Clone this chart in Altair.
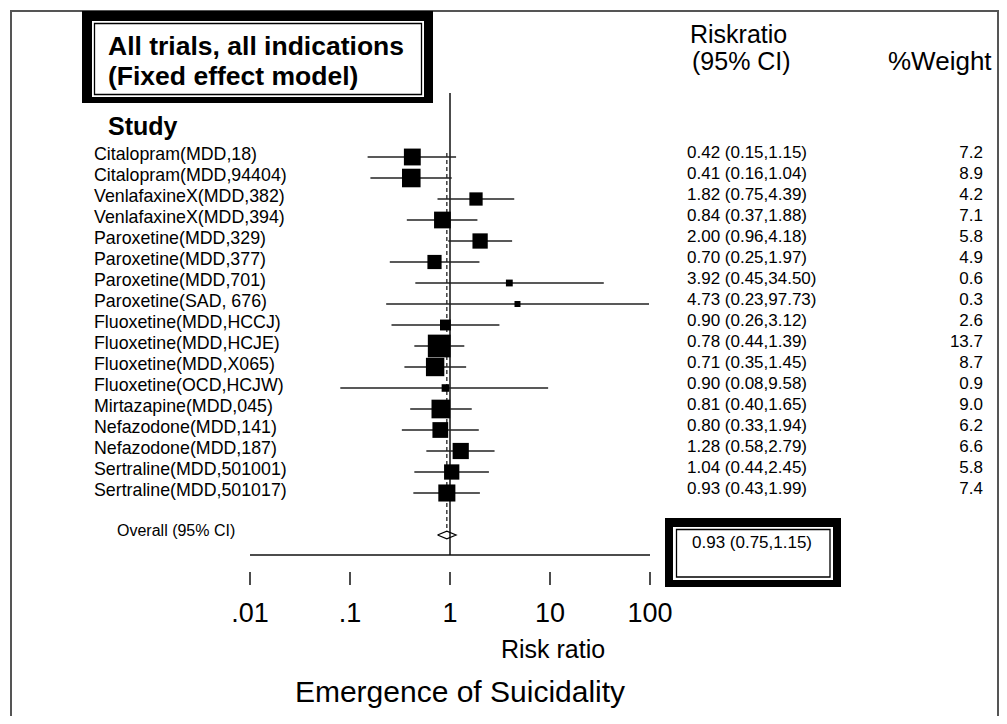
import altair as alt
import pandas as pd

# ---------------- data ----------------
studies = [
    "Citalopram(MDD,18)", "Citalopram(MDD,94404)", "VenlafaxineX(MDD,382)",
    "VenlafaxineX(MDD,394)", "Paroxetine(MDD,329)", "Paroxetine(MDD,377)",
    "Paroxetine(MDD,701)", "Paroxetine(SAD, 676)", "Fluoxetine(MDD,HCCJ)",
    "Fluoxetine(MDD,HCJE)", "Fluoxetine(MDD,X065)", "Fluoxetine(OCD,HCJW)",
    "Mirtazapine(MDD,045)", "Nefazodone(MDD,141)", "Nefazodone(MDD,187)",
    "Sertraline(MDD,501001)", "Sertraline(MDD,501017)",
]
rr = [0.42, 0.41, 1.82, 0.84, 2.00, 0.70, 3.92, 4.73, 0.90, 0.78, 0.71, 0.90,
      0.81, 0.80, 1.28, 1.04, 0.93]
ci_low = [0.15, 0.16, 0.75, 0.37, 0.96, 0.25, 0.45, 0.23, 0.26, 0.44, 0.35, 0.08,
          0.40, 0.33, 0.58, 0.44, 0.43]
ci_high = [1.15, 1.04, 4.39, 1.88, 4.18, 1.97, 34.50, 97.73, 3.12, 1.39, 1.45, 9.58,
           1.65, 1.94, 2.79, 2.45, 1.99]
weights = [7.2, 8.9, 4.2, 7.1, 5.8, 4.9, 0.6, 0.3, 2.6, 13.7, 8.7, 0.9,
           9.0, 6.2, 6.6, 5.8, 7.4]
overall_rr = 0.93
overall_lo = 0.75
overall_hi = 1.15
overall_row = 18
tick_values = [0.01, 0.1, 1, 10, 100]
tick_labels = [".01", ".1", "1", "10", "100"]

FONT = "Liberation Sans"

df = pd.DataFrame({
    "study": studies, "rr": rr, "lo": ci_low, "hi": ci_high, "w": weights,
    "row": list(range(len(studies))),
})
df["ci_text"] = [f"{a:.2f} ({b:.2f},{c:.2f})" for a, b, c in zip(rr, ci_low, ci_high)]
df["w_text"] = [f"{w:.1f}" for w in weights]

ticks = pd.DataFrame({"v": tick_values, "lab": tick_labels})
axis_line = pd.DataFrame({"a": [tick_values[0]], "b": [tick_values[-1]]})
ref_df = pd.DataFrame({"v": [1.0]})
ov_df = pd.DataFrame({"v": [overall_rr]})
dh = 0.18
diamond = pd.DataFrame({
    "x": [overall_lo, overall_rr, overall_hi, overall_rr, overall_lo],
    "row": [overall_row, overall_row - dh, overall_row, overall_row + dh, overall_row],
    "o": [0, 1, 2, 3, 4],
})
one = pd.DataFrame({"k": [0]})

xs = alt.Scale(type="log", domain=[0.01, 100], range=[242, 642], nice=False)
ys = alt.Scale(domain=[0, 16], range=[149, 485], nice=False, zero=False)


def X(f):
    return alt.X(f, type="quantitative", scale=xs, axis=None)


def Y(f):
    return alt.Y(f, type="quantitative", scale=ys, axis=None)


def label(text, x, y, size, bold=False, align="left"):
    return alt.Chart(one).mark_text(
        text=text, align=align, baseline="alphabetic", fontSize=size, font=FONT,
        fontWeight="bold" if bold else "normal", color="black",
    ).encode(x=alt.value(x), y=alt.value(y))


def box(x1, y1, x2, y2, fill=None, stroke=None, sw=1):
    kw = {}
    if fill is not None:
        kw["fill"] = fill
        kw["fillOpacity"] = 1
    else:
        kw["fillOpacity"] = 0
    if stroke is not None:
        kw["stroke"] = stroke
        kw["strokeWidth"] = sw
    return alt.Chart(one).mark_rect(**kw).encode(
        x=alt.value(x1), x2=alt.value(x2), y=alt.value(y1), y2=alt.value(y2))


layers = []
# outer frame
layers.append(box(3, 3, 990, 730, stroke="#555555", sw=2))
# title box
layers.append(box(74, 3, 425, 95, fill="black"))
layers.append(box(84, 13, 416, 89, fill="white"))
layers.append(box(86.5, 15.5, 413.5, 86.5, fill="white", stroke="black", sw=1.3))
layers.append(label("All trials, all indications", 100, 47, 26.5, bold=True))
layers.append(label("(Fixed effect model)", 100, 77, 26.5, bold=True))
layers.append(label("Study", 100, 127, 25, bold=True))
# column headers
layers.append(label("Riskratio", 682, 35, 25))
layers.append(label("(95% CI)", 684, 62, 25))
layers.append(label("%Weight", 880, 62, 26))

# reference line at 1
layers.append(alt.Chart(ref_df).mark_rule(color="#111111", strokeWidth=1.5).encode(
    x=X("v"), y=alt.value(85), y2=alt.value(547)))
# overall dashed line
layers.append(alt.Chart(ov_df).mark_rule(color="#111111", strokeWidth=1.2, strokeDash=[4, 3]).encode(
    x=X("v"), y=alt.value(145), y2=alt.value(522)))
# CI lines
layers.append(alt.Chart(df).mark_rule(color="#222222", strokeWidth=1.4).encode(
    x=X("lo"), x2="hi", y=Y("row")))
# squares
layers.append(alt.Chart(df).mark_point(shape="square", filled=True, opacity=1, color="black").encode(
    x=X("rr"), y=Y("row"),
    size=alt.Size("w:Q", scale=alt.Scale(domain=[0, 13.7], range=[25, 518], zero=False), legend=None)))
# diamond
layers.append(alt.Chart(diamond).mark_line(color="black", strokeWidth=1.2).encode(
    x=X("x"), y=Y("row"), order="o:Q"))
# study labels
layers.append(alt.Chart(df).mark_text(align="left", baseline="alphabetic", fontSize=17.8, font=FONT,
                                      color="black", dy=3).encode(
    x=alt.value(86), y=Y("row"), text="study:N"))
# CI text
layers.append(alt.Chart(df).mark_text(align="left", baseline="alphabetic", fontSize=17, font=FONT,
                                      color="black", dy=1).encode(
    x=alt.value(679), y=Y("row"), text="ci_text:N"))
# weight text
layers.append(alt.Chart(df).mark_text(align="right", baseline="alphabetic", fontSize=17, font=FONT,
                                      color="black", dy=1).encode(
    x=alt.value(975), y=Y("row"), text="w_text:N"))
# overall label
layers.append(label("Overall (95% CI)", 109, 528, 16))
# overall box
layers.append(box(657, 510, 833, 579, fill="black"))
layers.append(box(665, 519, 825, 572, fill="white"))
layers.append(box(668.5, 521.5, 822, 569, fill="white", stroke="black", sw=1.3))
layers.append(label(f"{overall_rr:.2f} ({overall_lo:.2f},{overall_hi:.2f})", 684, 540, 17))

# x axis line
layers.append(alt.Chart(axis_line).mark_rule(color="#111111", strokeWidth=1.5).encode(
    x=X("a"), x2="b", y=alt.value(547)))
# ticks
layers.append(alt.Chart(ticks).mark_rule(color="#111111", strokeWidth=1.5).encode(
    x=X("v"), y=alt.value(564), y2=alt.value(577)))
layers.append(alt.Chart(ticks).mark_text(align="center", baseline="alphabetic", fontSize=27,
                                         font=FONT, color="black").encode(
    x=X("v"), y=alt.value(614), text="lab:N"))
layers.append(label("Risk ratio", 545, 650, 25, align="center"))
layers.append(label("Emergence of Suicidality", 452, 694, 30, align="center"))

chart = alt.layer(*layers).properties(
    width=991, height=708, padding=0,
    autosize=alt.AutoSizeParams(type="none"),
    background="white",
).configure_view(stroke=None)

chart.save("out.html", embed_options={"renderer": "svg", "actions": False})
